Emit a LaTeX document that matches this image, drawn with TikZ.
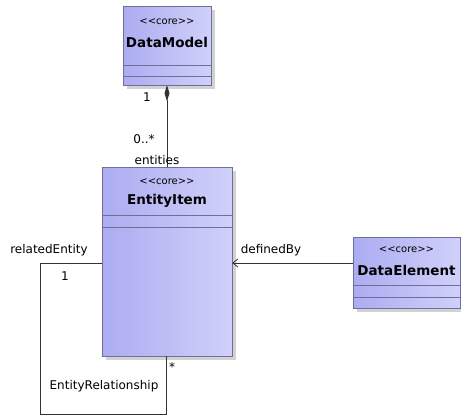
\documentclass[tikz,border=0pt]{standalone}
\usepackage{fontspec}
\setmainfont{DejaVu Sans}
\usetikzlibrary{arrows.meta,shadows}

\definecolor{classfillL}{RGB}{172,172,242}
\definecolor{classfillR}{RGB}{208,208,250}
\definecolor{classedge}{RGB}{110,110,150}

\begin{document}
\begin{tikzpicture}[x=1pt,y=-1pt,
  umlclass/.style={draw=classedge, left color=classfillL, right color=classfillR,
    inner sep=0pt, drop shadow={shadow xshift=4pt,shadow yshift=-4pt,fill=gray!70}},
  stereo/.style={font=\fontsize{10}{11}\selectfont, inner sep=0pt},
  classname/.style={font=\fontsize{13.5}{15}\bfseries\selectfont, inner sep=0pt},
  lbl/.style={font=\fontsize{12}{14}\selectfont, inner sep=0pt},
  sep/.style={draw=classedge},
  assoc/.style={draw=black!80, line width=0.8pt}]
  \useasboundingbox (0,0) rectangle (461,416);

  % classes
  \node[umlclass, minimum width=88, minimum height=79] (datamodel) at (167,45.5) {};
  \node[stereo] (dmstereo) at (167,22) {<\kern0pt<core>\kern0pt>};
  \node[classname] (dmname) at (167,42) {DataModel};
  \coordinate (dmsepa) at (0,65);
  \coordinate (dmsepb) at (0,76);
  \draw[sep] (datamodel.west |- dmsepa) -- (datamodel.east |- dmsepa);
  \draw[sep] (datamodel.west |- dmsepb) -- (datamodel.east |- dmsepb);

  \node[umlclass, minimum width=130, minimum height=189] (entityitem) at (167,261.5) {};
  \node[stereo] (eistereo) at (167,182) {<\kern0pt<core>\kern0pt>};
  \node[classname] (einame) at (167,201) {EntityItem};
  \coordinate (eisepa) at (0,215);
  \coordinate (eisepb) at (0,227);
  \draw[sep] (entityitem.west |- eisepa) -- (entityitem.east |- eisepa);
  \draw[sep] (entityitem.west |- eisepb) -- (entityitem.east |- eisepb);

  \node[umlclass, minimum width=107, minimum height=71] (dataelement) at (406.5,272.5) {};
  \node[stereo] (destereo) at (406.5,250) {<\kern0pt<core>\kern0pt>};
  \node[classname] (dename) at (406.5,270) {DataElement};
  \coordinate (desepa) at (0,285);
  \coordinate (desepb) at (0,297);
  \draw[sep] (dataelement.west |- desepa) -- (dataelement.east |- desepa);
  \draw[sep] (dataelement.west |- desepb) -- (dataelement.east |- desepb);

  % composition DataModel -> EntityItem
  \draw[assoc, {Diamond[length=16pt,width=5pt]}-] (datamodel.south) -- (entityitem.north);
  \node[lbl] (dmone) at (147,97) {1};
  \node[lbl] (dmmany) at (144,139) {0..*};
  \node[lbl] (dmrole) at (157,160) {entities};

  % EntityRelationship (self association)
  \coordinate (relne) at (40,263);
  \coordinate (relsw) at (40,414);
  \coordinate (relse) at (166,414);
  \draw[assoc] (entityitem.west |- relne) -- (relne) -- (relsw) -- (relse)
    -- (entityitem.south -| relse);
  \node[lbl] (relrole) at (49,250) {relatedEntity};
  \node[lbl] (relone) at (65,276) {1};
  \node[lbl] (relmany) at (172,367) {*};
  \node[lbl] (relname) at (104,386) {EntityRelationship};

  % definedBy
  \coordinate (defy) at (300,263);
  \draw[assoc, -{Straight Barb[length=5pt,width=8pt]}] (dataelement.west |- defy)
    -- (entityitem.east |- defy);
  \node[lbl] (defrole) at (271,250) {definedBy};
\end{tikzpicture}
\end{document}
